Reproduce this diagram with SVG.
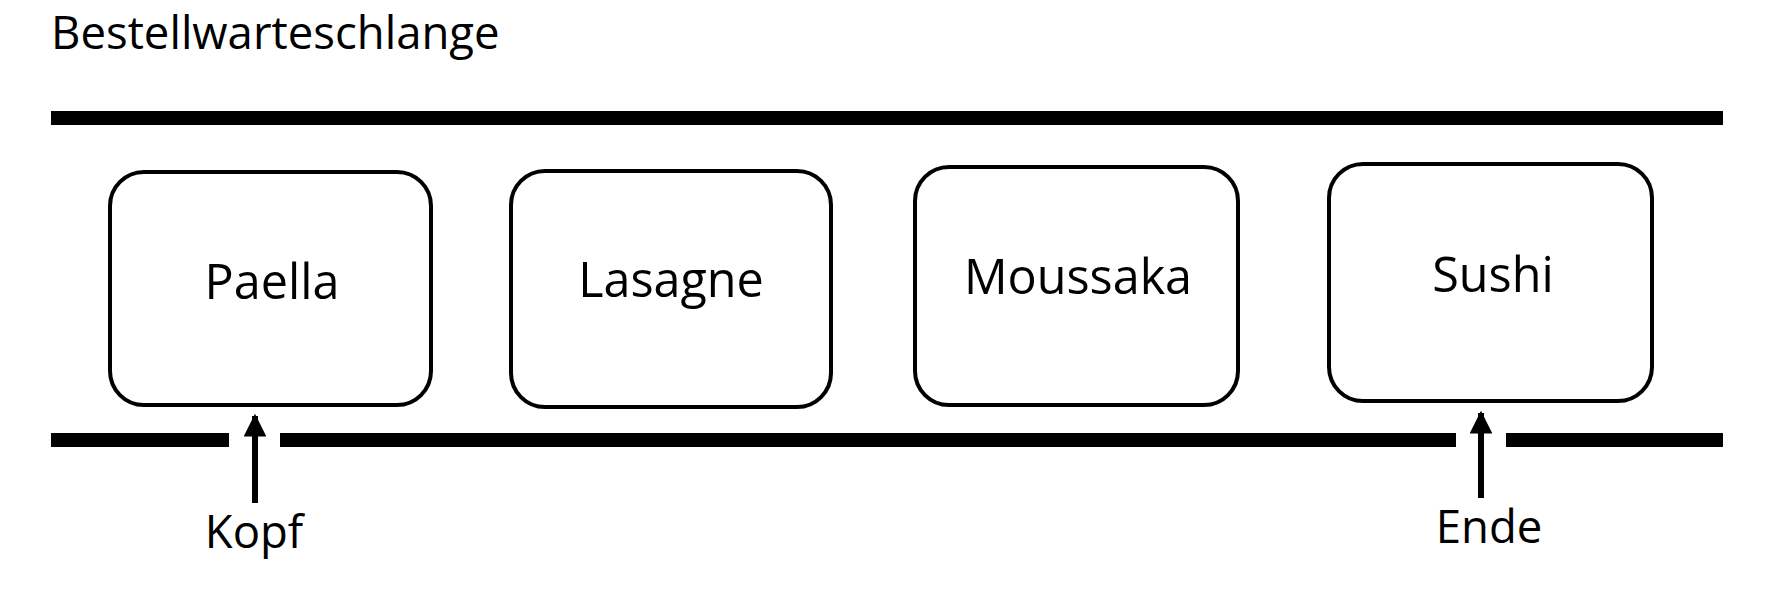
<svg xmlns="http://www.w3.org/2000/svg" width="1771" height="592" viewBox="0 0 1771 592">
<defs>
<style>
text{font-family:"Open Sans","Noto Sans","DejaVu Sans",sans-serif;fill:#000}
.lbl{font-size:48.5px;text-anchor:middle}
.cap{font-size:45.5px}
.box{fill:#fff;stroke:#000;stroke-width:4}
.bar{fill:#000}
.arr{stroke:#000;stroke-width:6;fill:none}
</style>
<marker id="ah" viewBox="0 0 10 10" refX="9" refY="5" markerWidth="4" markerHeight="3.8" orient="auto" markerUnits="strokeWidth">
<path d="M0,0 L10,5 L0,10 z" fill="#000"/>
</marker>
</defs>
<rect width="1771" height="592" fill="#fff"/>
<text class="cap" x="51" y="49">Bestellwarteschlange</text>
<g id="walls">
<rect class="bar" x="51" y="111" width="1672" height="14"/>
<rect class="bar" x="51" y="433" width="178" height="14"/>
<rect class="bar" x="280" y="433" width="1176" height="14"/>
<rect class="bar" x="1506" y="433" width="217" height="14"/>
</g>
<g id="n1"><rect class="box" x="110" y="172" width="321" height="233" rx="34"/><text class="lbl" x="272" y="299">Paella</text></g>
<g id="n2"><rect class="box" x="511" y="171" width="320" height="236" rx="34"/><text class="lbl" x="671" y="297">Lasagne</text></g>
<g id="n3"><rect class="box" x="915" y="167" width="323" height="238" rx="34"/><text class="lbl" x="1078" y="294">Moussaka</text></g>
<g id="n4"><rect class="box" x="1329" y="164" width="323" height="237" rx="34"/><text class="lbl" x="1493" y="292">Sushi</text></g>
<g id="connectors">
<line class="arr" x1="255" y1="503" x2="255" y2="416" marker-end="url(#ah)"/>
<line class="arr" x1="1481" y1="498" x2="1481" y2="413" marker-end="url(#ah)"/>
</g>
<text class="cap" x="254" y="548" text-anchor="middle">Kopf</text>
<text class="cap" x="1489" y="543" text-anchor="middle">Ende</text>
</svg>
